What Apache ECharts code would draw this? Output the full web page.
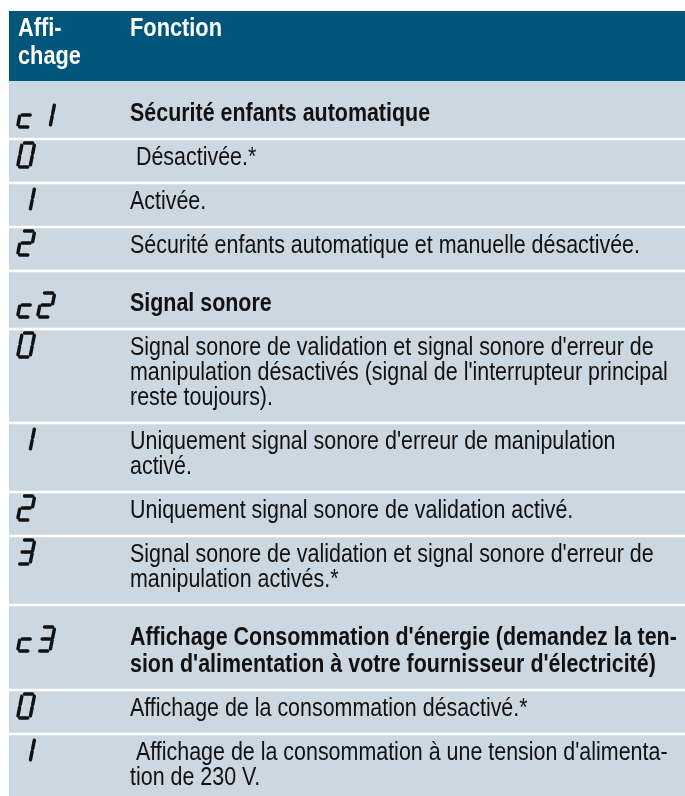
<!DOCTYPE html>
<html><head><meta charset="utf-8">
<script src="https://cdn.jsdelivr.net/npm/echarts@6/dist/echarts.min.js"></script>
<style>html,body{margin:0;padding:0;background:#fff}#c{width:685px;height:796px}</style>
</head><body><div id="c"></div>
<script>
// ---- data ----
const headerLabels = ['Affi-\nchage', 'Fonction'];
const displayCodes = ['c1','0','1','2','c2','0','1','2','3','c3','0','1'];
const isGroupRow = [true,false,false,false,true,false,false,false,false,true,false,false];
const functionTexts = [
  'Sécurité enfants automatique',
  ' Désactivée.*',
  'Activée.',
  'Sécurité enfants automatique et manuelle désactivée.',
  'Signal sonore',
  "Signal sonore de validation et signal sonore d'erreur de\nmanipulation désactivés (signal de l'interrupteur principal\nreste toujours).",
  "Uniquement signal sonore d'erreur de manipulation\nactivé.",
  'Uniquement signal sonore de validation activé.',
  "Signal sonore de validation et signal sonore d'erreur de\nmanipulation activés.*",
  "Affichage Consommation d'énergie (demandez la ten-\nsion d'alimentation à votre fournisseur d'électricité)",
  'Affichage de la consommation désactivé.*',
  " Affichage de la consommation à une tension d'alimenta-\ntion de 230 V."
];

// ---- layout / style ----
const PAGE_W = 685, PAGE_H = 796;
const TABLE_LEFT = 9, TABLE_TOP = 11, HEADER_H = 70;
const TEXT_X = 130, CODE_X = 17.5;
const NORMAL = {top: 27, lh: 25, bottom: 17};
const GROUP = {top: 41, lh: 27, bottom: 17};
const HEADER_BG = '#00567a', BODY_BG = '#cbd8e1', SEP = '#ffffff', INK = '#111111';
const FONT_SIZE = 25, HEADER_SIZE = 26;

function hasFont(name) {
  const c = document.createElement('canvas').getContext('2d');
  const t = 'mmmmmmmmmmlliWW@#';
  c.font = '40px monospace'; const w0 = c.measureText(t).width;
  c.font = '40px "' + name + '", monospace';
  return c.measureText(t).width !== w0;
}
const FAMILY = hasFont('Liberation Sans Narrow') ? 'Liberation Sans Narrow' : (hasFont('Liberation Sans') ? 'Liberation Sans' : 'Arial');
function measure(text, font) {
  const c = document.createElement('canvas').getContext('2d');
  c.font = font; return c.measureText(text).width;
}
const fontN = FONT_SIZE + 'px "' + FAMILY + '"';
const fontB = 'bold ' + FONT_SIZE + 'px "' + FAMILY + '"';
const fontH = 'bold ' + HEADER_SIZE + 'px "' + FAMILY + '"';
const scaleN = 510 / measure('Sécurité enfants automatique et manuelle désactivée.', fontN);
const scaleB = (536 / measure("Affichage Consommation d'énergie (demandez la ten-", fontB) +
                306 / measure('Sécurité enfants automatique', fontB)) / 2;
const scaleH = 92 / measure('Fonction', fontH);

const lines = functionTexts.map(t => t.split('\n'));
const rowTops = [], rowHeights = [];
let yCur = TABLE_TOP + HEADER_H;
lines.forEach((ls, i) => {
  const m = isGroupRow[i] ? GROUP : NORMAL;
  const h = m.top + m.lh * (ls.length - 1) + m.bottom;
  rowTops.push(yCur); rowHeights.push(h); yCur += h;
});

// seven-segment glyphs
const SEGMENTS = {'0': 'abcdef', '1': 'bc', '2': 'abged', '3': 'abgcd', 'c': 'ged'};
const DW = 12.5, DH = 24, SLANT = 0.2, GAP = 2.2, PITCH = 20;
function segLine(s) {
  const h2 = DH / 2;
  switch (s) {
    case 'a': return [[GAP, DH], [DW - GAP, DH]];
    case 'b': return [[DW, DH - GAP], [DW, h2 + GAP * 0.6]];
    case 'c': return [[DW, h2 - GAP * 0.6], [DW, GAP]];
    case 'd': return [[GAP, 0], [DW - GAP, 0]];
    case 'e': return [[0, h2 - GAP * 0.6], [0, GAP]];
    case 'f': return [[0, DH - GAP], [0, h2 + GAP * 0.6]];
    case 'g': return [[GAP, h2], [DW - GAP, h2]];
  }
}
function digitElements(code, x0, yb) {
  const els = [];
  code.split('').forEach((ch, k) => {
    const cx = x0 + k * PITCH;
    (SEGMENTS[ch] || '').split('').forEach(s => {
      const pts = segLine(s).map(([u, v]) => [cx + u + SLANT * v, yb - v]);
      els.push({type: 'polyline', shape: {points: pts},
        style: {stroke: INK, lineWidth: 3.4, lineCap: 'round', fill: null}, z2: 20});
    });
  });
  return els;
}

// baseline-positioned text (zrender aligns by line box top)
function textEl(str, x, yBase, font, size, scale, color) {
  return {type: 'text', x: x, y: yBase - 0.81 * size, scaleX: scale, z2: 15,
    style: {text: str, x: 0, y: 0, font: font, lineHeight: size, fill: color, align: 'left', verticalAlign: 'top'}};
}

const chart = echarts.init(document.getElementById('c'));
chart.setOption({
  animation: false,
  grid: {left: 0, right: 0, top: 0, bottom: 0},
  xAxis: {type: 'value', min: 0, max: PAGE_W, show: false},
  yAxis: {type: 'value', min: 0, max: PAGE_H, inverse: true, show: false},
  series: [
    {
      type: 'custom', name: 'header', clip: false,
      data: [[TABLE_LEFT, TABLE_TOP]],
      renderItem: function (params, api) {
        const p0 = api.coord([TABLE_LEFT, TABLE_TOP]);
        const p1 = api.coord([PAGE_W, TABLE_TOP + HEADER_H]);
        const children = [{type: 'rect', shape: {x: p0[0], y: p0[1], width: p1[0] - p0[0], height: p1[1] - p0[1]}, style: {fill: HEADER_BG}}];
        headerLabels[0].split('\n').forEach((l, k) => {
          const p = api.coord([CODE_X + 0.5, TABLE_TOP + 26 + k * 28]);
          children.push(textEl(l, p[0], p[1], fontH, HEADER_SIZE, scaleH, '#ffffff'));
        });
        const pf = api.coord([TEXT_X, TABLE_TOP + 26]);
        children.push(textEl(headerLabels[1], pf[0], pf[1], fontH, HEADER_SIZE, scaleH, '#ffffff'));
        return {type: 'group', children: children};
      }
    },
    {
      type: 'custom', name: 'rows', clip: false,
      data: displayCodes.map((c, i) => [TABLE_LEFT, rowTops[i], i]),
      encode: {x: 0, y: 1},
      renderItem: function (params, api) {
        const i = params.dataIndex;
        const top = rowTops[i], h = rowHeights[i];
        const grp = isGroupRow[i];
        const m = grp ? GROUP : NORMAL;
        const p0 = api.coord([TABLE_LEFT, top]);
        const p1 = api.coord([PAGE_W, top + h]);
        const children = [{type: 'rect', shape: {x: p0[0], y: p0[1], width: p1[0] - p0[0], height: p1[1] - p0[1]}, style: {fill: BODY_BG}, z2: 1}];
        if (i > 0) {
          children.push({type: 'rect', shape: {x: p0[0], y: p0[1] - 1.3, width: p1[0] - p0[0], height: 2.6}, style: {fill: SEP}, z2: 5});
        }
        const base = top + m.top;
        const pd = api.coord([CODE_X, base + (grp ? 5 : 1)]);
        digitElements(displayCodes[i], pd[0], pd[1]).forEach(e => children.push(e));
        lines[i].forEach((l, k) => {
          const pt = api.coord([TEXT_X, base + k * m.lh]);
          children.push(textEl(l, pt[0], pt[1], grp ? fontB : fontN, FONT_SIZE, grp ? scaleB : scaleN, INK));
        });
        return {type: 'group', children: children};
      }
    }
  ]
});
</script>
</body></html>
